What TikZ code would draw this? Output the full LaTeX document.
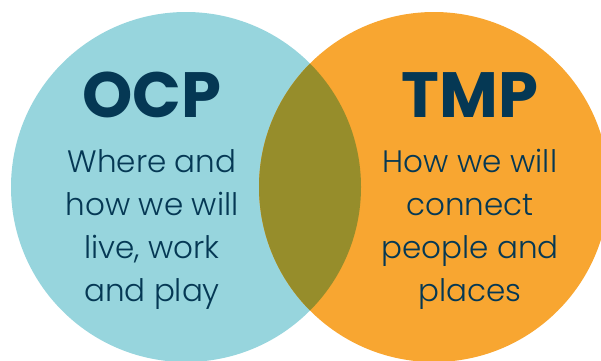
\documentclass[tikz,border=0pt]{standalone}
\usepackage{fontspec}
\setmainfont{Poppins}
\newfontfamily\bodyfont{Poppins}[UprightFont=* Light]
\usepackage{xcolor}
\usepackage{tikz}
\usetikzlibrary{positioning}

\definecolor{ocpblue}{HTML}{97D5DD}
\definecolor{tmporange}{HTML}{F8A631}
\definecolor{overlapolive}{HTML}{968D2B}
\definecolor{navy}{HTML}{053854}

\tikzset{
    plantitle/.style={text=navy, font=\fontsize{64}{64}\selectfont\bfseries, inner sep=0pt, anchor=base},
    planbody/.style={text=navy, align=center, font=\bodyfont\fontsize{31}{43}\selectfont, inner sep=0pt, anchor=north},
}

\begin{document}
\begin{tikzpicture}[x=1pt, y=-1pt]
    \useasboundingbox (0,0) rectangle (601,360);

    % the two plans
    \fill[ocpblue] (186,187) circle (175);
    \fill[tmporange] (434,187) circle (175);
    % where they overlap
    \begin{scope}
        \clip (186,187) circle (175);
        \fill[overlapolive] (434,187) circle (175);
    \end{scope}

    \node[plantitle] (ocp) at (152,117) {OCP};
    \node[plantitle] (tmp) at (470,117) {TMP};

    \node[planbody, below=32pt of ocp.base] (ocptext) {Where and\\how we will\\live, work\\and play};
    \node[planbody, below=32pt of tmp.base] (tmptext) {How we will\\connect\\people and\\places};
\end{tikzpicture}
\end{document}
